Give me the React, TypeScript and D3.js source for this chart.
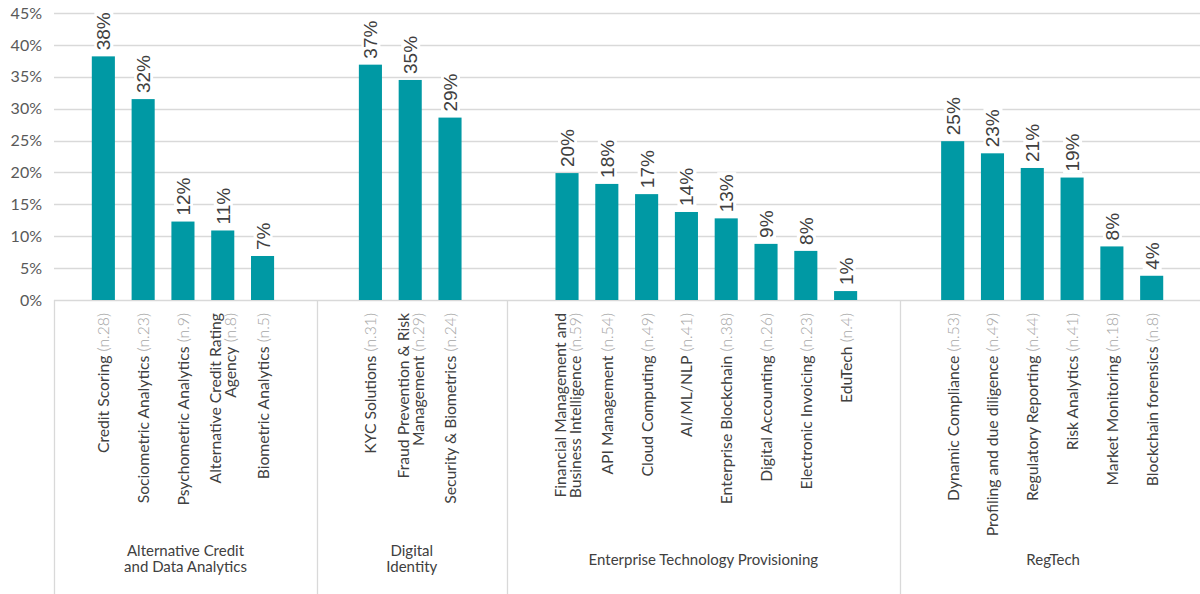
import { useEffect, useRef } from 'react';
import * as d3 from 'd3';

// group titles (each entry = lines)
const groupTitles = [
  ['Alternative Credit', 'and Data Analytics'],
  ['Digital', 'Identity'],
  ['Enterprise Technology Provisioning'],
  ['RegTech'],
];

const altCreditLabels = [['Credit Scoring'], ['Sociometric Analytics'], ['Psychometric Analytics'], ['Alternative Credit Rating', 'Agency'], ['Biometric Analytics']];
const altCreditN = [28, 23, 9, 8, 5];
const altCreditValues = [38.2, 31.5, 12.3, 10.9, 6.9];

const digitalIdLabels = [['KYC Solutions'], ['Fraud Prevention & Risk', 'Management'], ['Security & Biometrics']];
const digitalIdN = [31, 29, 24];
const digitalIdValues = [36.9, 34.5, 28.6];

const enterpriseLabels = [['Financial Management and', 'Business Intelligence'], ['API Management'], ['Cloud Computing'], ['AI/ML/NLP'], ['Enterprise Blockchain'], ['Digital Accounting'], ['Electronic Invoicing'], ['EduTech']];
const enterpriseN = [59, 54, 49, 41, 38, 26, 23, 4];
const enterpriseValues = [19.9, 18.2, 16.6, 13.8, 12.8, 8.8, 7.7, 1.4];

const regTechLabels = [['Dynamic Compliance'], ['Profiling and due diligence'], ['Regulatory Reporting'], ['Risk Analytics'], ['Market Monitoring'], ['Blockchain forensics']];
const regTechN = [53, 49, 44, 41, 18, 8];
const regTechValues = [24.9, 23.0, 20.7, 19.2, 8.4, 3.8];

const yTicks = [0, 5, 10, 15, 20, 25, 30, 35, 40, 45];

// empty space (in category units) left / right of each group's bars
const groupPad = [[0.74, 0.87], [0.84, 0.92], [1.02, 0.87], [0.82, 0.87]];

const W = 1200;
const H = 594;
const TEAL = '#0099A4';
const TEXT = '#404040';
const GRID = '#D9D9D9';

const App = () => {
  const svgRef = useRef<SVGSVGElement>(null);

  useEffect(() => {
    const groups = [
      { labels: altCreditLabels, n: altCreditN, values: altCreditValues },
      { labels: digitalIdLabels, n: digitalIdN, values: digitalIdValues },
      { labels: enterpriseLabels, n: enterpriseN, values: enterpriseValues },
      { labels: regTechLabels, n: regTechN, values: regTechValues },
    ];

    // positions along the category axis in "category units"
    let acc = 0;
    const bars: any[] = [];
    const spans: { start: number; end: number }[] = [];
    groups.forEach((g, gi) => {
      const start = acc;
      acc += groupPad[gi][0];
      g.values.forEach((v, i) => {
        bars.push({ value: v, n: g.n[i], lines: g.labels[i], pos: acc + 0.5 });
        acc += 1;
      });
      acc += groupPad[gi][1];
      spans.push({ start, end: acc });
    });

    const left = 54;
    const step = 39.8;
    const x = d3.scaleLinear().domain([0, acc]).range([left, left + acc * step]);
    const y = d3.scaleLinear().domain([0, 45]).range([300, 13]);
    const barW = 0.58 * step;

    const svg = d3.select(svgRef.current);
    svg.selectAll('*').remove();

    // gridlines
    svg.append('g')
      .selectAll('line')
      .data(yTicks)
      .enter()
      .append('line')
      .attr('x1', left)
      .attr('x2', W)
      .attr('y1', d => Math.round(y(d)) + 0.5)
      .attr('y2', d => Math.round(y(d)) + 0.5)
      .attr('stroke', GRID)
      .attr('stroke-width', 1.3);

    // y axis labels
    const yAxis = svg.append('g')
      .attr('transform', `translate(${left},0)`)
      .call(d3.axisLeft(y).tickValues(yTicks).tickSize(0).tickPadding(12).tickFormat(d => `${d}%`));
    yAxis.select('.domain').remove();
    yAxis.selectAll('text')
      .attr('font-family', 'Lato')
      .attr('font-size', 16)
      .attr('fill', '#595959');

    // group separators
    const seps = [spans[0].start, ...spans.map(s => s.end)];
    svg.append('g')
      .selectAll('line')
      .data(seps)
      .enter()
      .append('line')
      .attr('x1', d => Math.round(x(d)) + 0.5)
      .attr('x2', d => Math.round(x(d)) + 0.5)
      .attr('y1', y(0))
      .attr('y2', H)
      .attr('stroke', GRID)
      .attr('stroke-width', 1.3);

    // bars
    svg.append('g')
      .selectAll('rect')
      .data(bars)
      .enter()
      .append('rect')
      .attr('x', d => x(d.pos) - barW / 2)
      .attr('y', d => y(d.value))
      .attr('width', barW)
      .attr('height', d => y(0) - y(d.value))
      .attr('fill', TEAL);

    // value labels with white box behind
    const vl = svg.append('g')
      .selectAll('g')
      .data(bars)
      .enter()
      .append('g')
      .attr('transform', d => `translate(${x(d.pos) + 7},${y(d.value) - 6}) rotate(-90)`);
    const vt = vl.append('text')
      .attr('font-family', 'Liberation Sans, Arial, sans-serif')
      .attr('font-size', 19)
      .attr('fill', TEXT)
      .text(d => `${Math.round(d.value)}%`);
    vt.each(function () {
      const bb = (this as SVGTextElement).getBBox();
      d3.select((this as SVGTextElement).parentNode as SVGGElement)
        .insert('rect', 'text')
        .attr('x', bb.x - 2)
        .attr('y', bb.y + 1)
        .attr('width', bb.width + 4)
        .attr('height', bb.height - 2)
        .attr('fill', '#fff');
    });

    // category labels (rotated)
    const lineH = 15;
    const cl = svg.append('g')
      .selectAll('text')
      .data(bars)
      .enter()
      .append('text')
      .attr('font-family', 'Lato')
      .attr('font-size', 15.7)
      .attr('fill', TEXT)
      .attr('text-anchor', 'end')
      .attr('transform', d => `translate(${x(d.pos)},313) rotate(-90)`);
    cl.each(function (d: any) {
      const t = d3.select(this);
      const nl = d.lines.length;
      d.lines.forEach((ln: string, i: number) => {
        const off = (i - (nl - 1) / 2) * lineH + 6;
        t.append('tspan').attr('x', 0).attr('y', off).text(ln);
        if (i === nl - 1) {
          t.append('tspan')
            .attr('fill', '#A6A6A6')
            .attr('font-weight', 300)
            .text(` (n.${d.n})`);
        }
      });
    });

    // group titles, one text per line
    svg.append('g')
      .selectAll('g')
      .data(groupTitles)
      .enter()
      .append('g')
      .each(function (lines, gi) {
        const cx = (x(spans[gi].start) + x(spans[gi].end)) / 2;
        const y0 = lines.length > 1 ? 556 : 565;
        lines.forEach((ln, i) => {
          d3.select(this)
            .append('text')
            .attr('font-family', 'Lato')
            .attr('font-size', 15)
            .attr('fill', TEXT)
            .attr('text-anchor', 'middle')
            .attr('x', cx)
            .attr('y', y0 + i * 16)
            .text(ln);
        });
      });
  }, []);

  return (
    <svg
      ref={svgRef}
      width={W}
      height={H}
      style={{ position: 'absolute', left: 0, top: 0, background: '#fff' }}
    />
  );
};

export default App;
